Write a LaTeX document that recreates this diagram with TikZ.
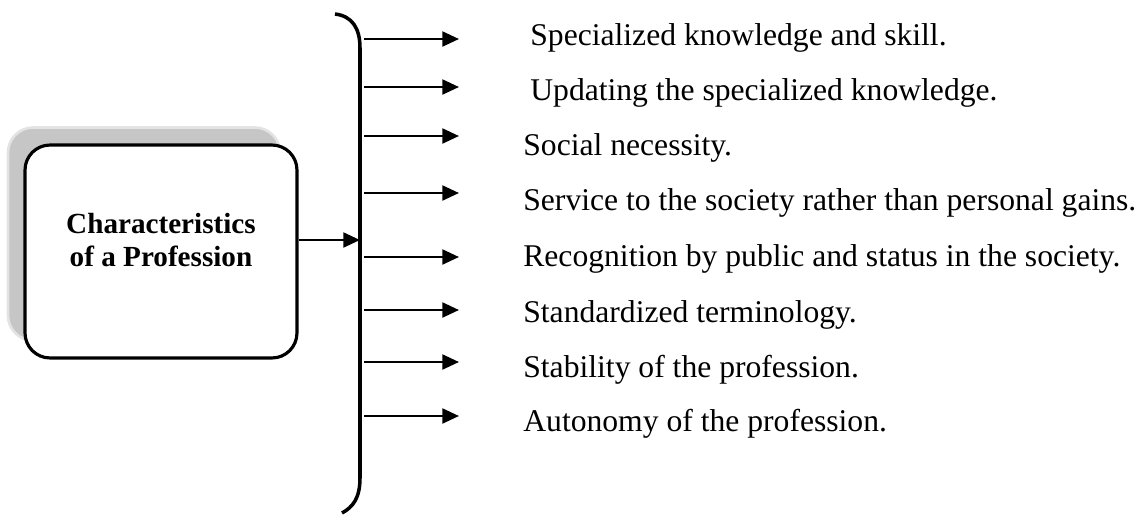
\documentclass[tikz,border=0pt]{standalone}
\usepackage{fontspec}
\setmainfont{Liberation Serif}
\usetikzlibrary{arrows.meta,positioning,calc}

\tikzset{
  itemtext/.style={anchor=base west, inner sep=0pt, font=\fontsize{18}{21}\selectfont},
  feed/.style={line width=1.4pt, -{Triangle[length=9.5pt,width=8.5pt]}},
  profbox/.style={draw, line width=1.8pt, rounded corners=0.5cm, fill=white,
    minimum width=5.44cm, minimum height=4.26cm, inner sep=0pt},
  shadowbox/.style={draw=gray!22, line width=1.5pt, rounded corners=0.5cm, fill=gray!45,
    minimum width=5.44cm, minimum height=4.26cm, inner sep=0pt}
}

\begin{document}
\begin{tikzpicture}[x=0.02cm, y=-0.02cm]
    \useasboundingbox (0,0) rectangle (1144,515);

    % Box with its shadow
    \node[shadowbox] (shadow) at (144,234) {};
    \node[profbox] (prof) at (161,251.5) {};
    \node[align=center, font=\fontsize{16.6}{19.3}\selectfont\bfseries] (proflabel) at (161,240)
        {Characteristics\\of a Profession};

    % Brace
    \coordinate (btop) at (335,14);
    \coordinate (bbot) at (342,513);
    \draw[line width=2pt] (btop) .. controls (352,16) and (360,28) .. (360,48)
        -- (360,478) .. controls (360,498) and (353,507) .. (bbot);
    \coordinate (brk) at (360,0);

    \draw[feed] (proflabel -| prof.east) -- (proflabel -| brk);

    % Characteristics
    \foreach \n/\y/\ty/\tx/\t in {
        1/39/45/530/{Specialized knowledge and skill.},
        2/87/100/530/{Updating the specialized knowledge.},
        3/136/155/523/{Social necessity.},
        4/193/210/523/{Service to the society rather than personal gains.},
        5/257/266/523/{Recognition by public and status in the society.},
        6/310/322/523/{Standardized terminology.},
        7/362/377/523/{Stability of the profession.},
        8/416/431/523/{Autonomy of the profession.}} {
      \coordinate (a\n) at (364,\y);
      \coordinate (b\n) at (459,\y);
      \node[itemtext] (item\n) at (\tx,\ty) {\t};
      \draw[feed] (a\n) -- (b\n);
    }
\end{tikzpicture}
\end{document}
